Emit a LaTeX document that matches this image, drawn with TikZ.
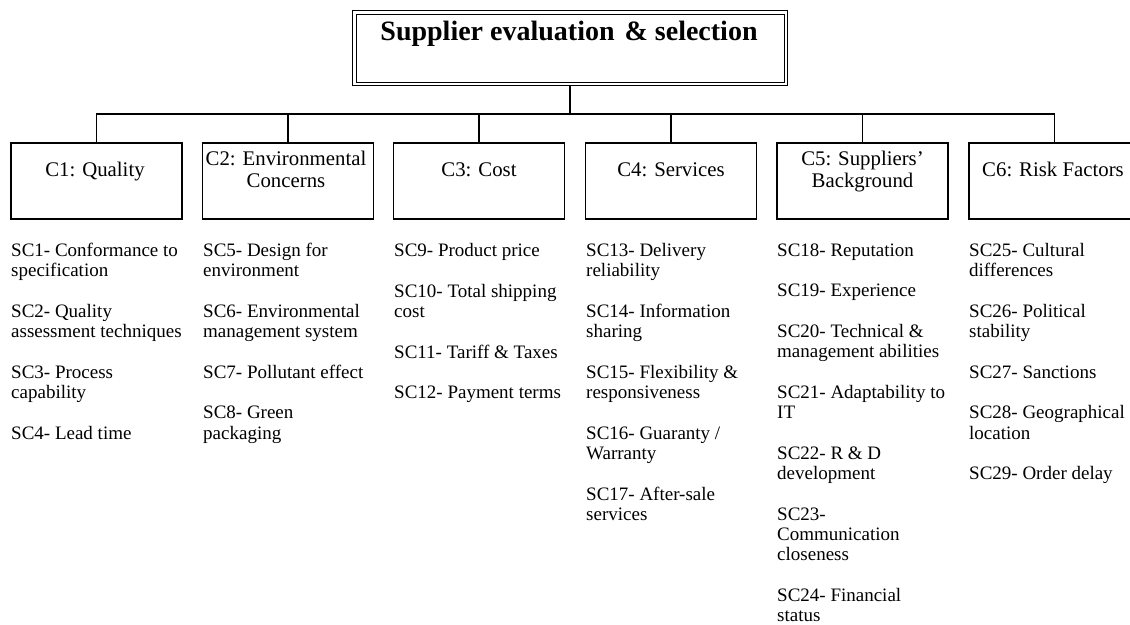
\documentclass[tikz,border=0pt]{standalone}
\usepackage{fontspec}
\setmainfont{Liberation Serif}
\begin{document}
\begin{tikzpicture}[x=1pt,y=1pt,
  topbox/.style={draw, line width=1pt, minimum width=435pt, minimum height=75pt, inner sep=0pt},
  innerframe/.style={line width=1pt},
  cbox/.style={draw, line width=1.2pt, minimum width=171pt, minimum height=76pt, inner sep=0pt},
  titletext/.style={font=\bfseries\fontsize{28}{30}\selectfont, anchor=base, inner sep=0pt},
  clabel/.style={font=\fontsize{20.8}{22}\selectfont, align=center, anchor=base, inner sep=0pt},
  sclist/.style={font=\fontsize{19}{20.3}\selectfont, align=left, anchor=base west, inner sep=0pt},
  conn/.style={line width=1.2pt}]
\useasboundingbox (0,0) rectangle (1130,-624);

% top box (double frame)
\node[topbox] (top) at (570,-48) {};
\draw[innerframe] ([shift={(4,-4)}]top.north west) rectangle ([shift={(-4,4)}]top.south east);
\node[titletext] (title) at (569,-40.5) {Supplier evaluation\hspace{10pt}\& selection};

% criteria boxes
\node[cbox] (c1) at (96.5,-181) {};
\node[cbox] (c2) at (288,-181) {};
\node[cbox] (c3) at (479,-181) {};
\node[cbox] (c4) at (671,-181) {};
\node[cbox] (c5) at (862.5,-181) {};
\node[cbox] (c6) at (1054.5,-181) {};

% labels (anchor = baseline of last line)
\node[clabel] (l1) at (95,-176) {C1: Quality};
\node[clabel] (l2) at (286,-187) {C2: Environmental\\Concerns};
\node[clabel] (l3) at (479,-176) {C3: Cost};
\node[clabel] (l4) at (671,-176) {C4: Services};
\node[clabel] (l5) at (862.5,-187) {C5: Suppliers’\\Background};
\node[clabel] (l6) at (1053,-176) {C6: Risk Factors};

% connectors
\coordinate (hub) at (570,-114);
\draw[conn] (top.south) -- (hub);
\draw[conn] (c1.north) |- (hub) -| (c6.north);
\foreach \k in {2,3,4,5}{\draw[conn] (c\k.north) -- (c\k.north |- hub);}

% sub-criteria (anchor = baseline of last line)
\node[sclist] (s1) at (11,-439.2) {SC1- Conformance to\\specification\\[20.3pt]
SC2- Quality\\assessment techniques\\[20.3pt]
SC3- Process\\capability\\[20.3pt]
SC4- Lead time};

\node[sclist] (s2) at (203,-439.2) {SC5- Design for\\environment\\[20.3pt]
SC6- Environmental\\management system\\[20.3pt]
SC7- Pollutant effect\\[20.3pt]
SC8- Green\\packaging};

\node[sclist] (s3) at (394,-398.6) {SC9- Product price\\[20.3pt]
SC10- Total shipping\\cost\\[20.3pt]
SC11- Tariff \& Taxes\\[20.3pt]
SC12- Payment terms};

\node[sclist] (s4) at (586,-520.4) {SC13- Delivery\\reliability\\[20.3pt]
SC14- Information\\sharing\\[20.3pt]
SC15- Flexibility \&\\responsiveness\\[20.3pt]
SC16- Guaranty /\\Warranty\\[20.3pt]
SC17- After-sale\\services};

\node[sclist] (s5) at (777,-621.5) {SC18- Reputation\\[20.3pt]
SC19- Experience\\[20.3pt]
SC20- Technical \&\\management abilities\\[20.3pt]
SC21- Adaptability to\\IT\\[20.3pt]
SC22- R \& D\\development\\[20.3pt]
SC23-\\Communication\\closeness\\[20.3pt]
SC24- Financial\\status};

\node[sclist] (s6) at (969,-479.8) {SC25- Cultural\\differences\\[20.3pt]
SC26- Political\\stability\\[20.3pt]
SC27- Sanctions\\[20.3pt]
SC28- Geographical\\location\\[20.3pt]
SC29- Order delay};
\end{tikzpicture}
\end{document}
